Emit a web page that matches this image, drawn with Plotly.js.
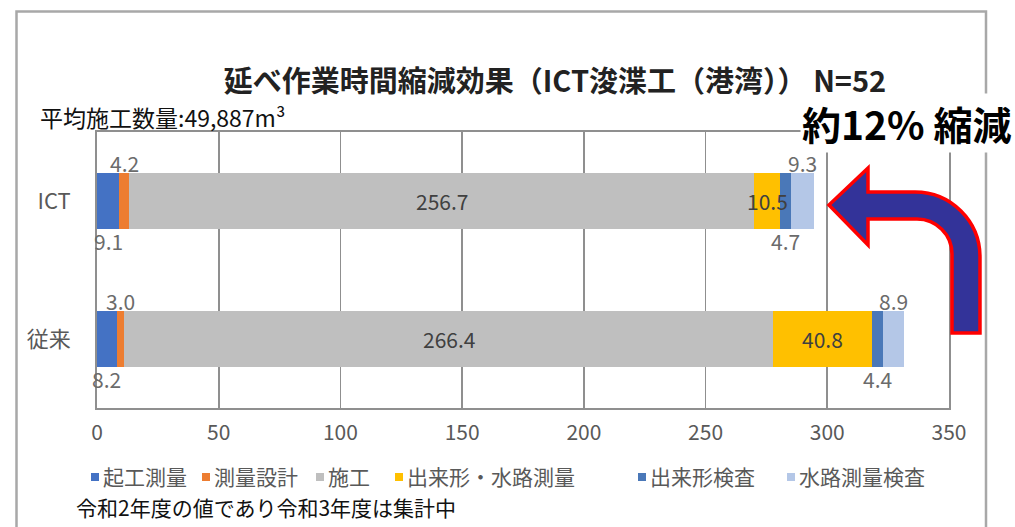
<!DOCTYPE html>
<html>
<head>
<meta charset="utf-8">
<script src="https://cdn.plot.ly/plotly-3.0.1.min.js"></script>
<style>
  html, body { margin: 0; padding: 0; background: #fff; }
  #chart { width: 1015px; height: 527px; }
</style>
</head>
<body>
<div id="chart"></div>
<script>
// Cumulative working hours per work item (ICT dredging vs. conventional)
const categories = ['ICT', '従来'];
const seriesNames = ['起工測量', '測量設計', '施工', '出来形・水路測量', '出来形検査', '水路測量検査'];
const kikoSokuryo = [9.1, 8.2];
const sokuryoSekkei = [4.2, 3.0];
const seko = [256.7, 266.4];
const dekigataSuiro = [10.5, 40.8];
const dekigataKensa = [4.7, 4.4];
const suiroKensa = [9.3, 8.9];
const xTickValues = [0, 50, 100, 150, 200, 250, 300, 350];

const seriesValues = [kikoSokuryo, sokuryoSekkei, seko, dekigataSuiro, dekigataKensa, suiroKensa];
const seriesColors = ['#4472C4', '#ED7D31', '#BFBFBF', '#FFC000', '#4A78B8', '#B4C7E7'];
// where each series' value label sits relative to its segment
const labelPlacement = ['below', 'above', 'inside', 'inside', 'below', 'above'];
// left edge (page px) of each legend key along the bottom row
const legendKeyLeft = [91, 202, 316, 395, 638, 787];

const FONT = '"Noto Sans CJK JP", "Noto Sans", sans-serif';
const W = 1015, H = 527;
const M = { l: 97, r: 66, t: 132, b: 119 };
const PW = W - M.l - M.r, PH = H - M.t - M.b;
// page pixel -> paper coordinates for decorations
const px = p => (p - M.l) / PW;
const py = p => (H - M.b - p) / PH;

const traces = seriesNames.map((name, i) => ({
  type: 'bar',
  orientation: 'h',
  name: name,
  y: categories,
  x: seriesValues[i],
  marker: { color: seriesColors[i], line: { width: 0 } },
  hoverinfo: 'x+name'
}));

// value labels placed at each segment's midpoint
const annotations = [];
categories.forEach((cat, c) => {
  let start = 0;
  seriesValues.forEach((vals, i) => {
    const v = vals[c];
    const mid = start + v / 2;
    const place = labelPlacement[i];
    annotations.push({
      x: mid, y: cat, xref: 'x', yref: 'y',
      text: v.toFixed(1),
      showarrow: false,
      yshift: place === 'above' ? 38 : (place === 'below' ? -40 : 0),
      font: { family: FONT, size: 21, color: place === 'inside' ? '#404040' : '#6b6b6b' }
    });
    start += v;
  });
});

const shapes = [];

// bottom key: small colour squares with series names
seriesNames.forEach((name, i) => {
  const left = legendKeyLeft[i];
  shapes.push({
    type: 'rect', xref: 'paper', yref: 'paper',
    x0: px(left), x1: px(left + 8), y0: py(481), y1: py(473),
    fillcolor: seriesColors[i], line: { width: 0 }
  });
  annotations.push({
    xref: 'paper', yref: 'paper', x: px(left + 11), y: py(476),
    xanchor: 'left', yanchor: 'middle', showarrow: false,
    text: name, borderpad: 0,
    font: { family: FONT, size: 21, color: '#595959' }
  });
});

annotations.push({
  xref: 'paper', yref: 'paper', x: px(38), y: py(117),
  xanchor: 'left', yanchor: 'middle', showarrow: false,
  text: '平均施工数量:49,887m³',
  font: { family: FONT, size: 23, color: '#111' }
});
annotations.push({
  xref: 'paper', yref: 'paper', x: px(800), y: py(123),
  xanchor: 'left', yanchor: 'middle', showarrow: false,
  text: '<b>約12% 縮減</b>', bgcolor: '#ffffff',
  font: { family: FONT, size: 39, color: '#000' }
});
annotations.push({
  xref: 'paper', yref: 'paper', x: px(75), y: py(507),
  xanchor: 'left', yanchor: 'middle', showarrow: false,
  text: '令和2年度の値であり令和3年度は集計中', borderpad: 0,
  font: { family: FONT, size: 21, color: '#111' }
});

// curved arrow pointing from the conventional total toward the ICT total
function arrowPath() {
  const k = 0.5523;
  const pts = [
    ['M', 829, 205],
    ['L', 868, 168],
    ['L', 868, 192],
    ['L', 915, 192],
    ['C', 915 + k * 65, 192, 980, 257 - k * 65, 980, 257],
    ['L', 980, 333],
    ['L', 952, 333],
    ['L', 952, 254],
    ['C', 952, 254 - k * 35, 917 + k * 35, 219, 917, 219],
    ['L', 868, 219],
    ['L', 868, 245]
  ];
  let s = '';
  pts.forEach(p => {
    s += p[0];
    const coords = [];
    for (let j = 1; j < p.length; j += 2) coords.push(px(p[j]).toFixed(5) + ',' + py(p[j + 1]).toFixed(5));
    s += coords.join(' ') + ' ';
  });
  return s + 'Z';
}

shapes.push({
  type: 'rect', xref: 'paper', yref: 'paper',
  x0: px(16.5), x1: px(986), y0: py(11.5), y1: py(560),
  line: { color: '#a8a8a8', width: 2.5 }, fillcolor: 'rgba(0,0,0,0)', layer: 'below'
});
shapes.push({
  type: 'path', xref: 'paper', yref: 'paper',
  path: arrowPath(),
  fillcolor: '#333399',
  line: { color: '#ff0000', width: 3.5 },
  layer: 'above'
});

const layout = {
  width: W, height: H,
  margin: M,
  paper_bgcolor: '#ffffff',
  plot_bgcolor: '#ffffff',
  barmode: 'stack',
  bargap: 0.6,
  showlegend: false,
  title: {
    text: '延べ作業時間縮減効果（ICT浚渫工（港湾）） N=52',
    font: { family: FONT, size: 29, color: '#222', weight: 'bold' },
    xref: 'paper', x: px(555), xanchor: 'center',
    yref: 'container', y: 1 - 82 / H, yanchor: 'middle'
  },
  xaxis: {
    range: [0, 350],
    tickvals: xTickValues,
    ticktext: xTickValues.map(String),
    showgrid: true, gridcolor: '#8f8f8f', gridwidth: 1.8,
    zeroline: false,
    showline: true, mirror: true, linecolor: '#8f8f8f', linewidth: 1.8,
    ticks: '', ticklabelstandoff: 5,
    tickfont: { family: FONT, size: 21, color: '#595959' },
    fixedrange: true
  },
  yaxis: {
    type: 'category',
    categoryorder: 'array', categoryarray: categories,
    autorange: 'reversed',
    showgrid: false, zeroline: false,
    showline: true, mirror: true, linecolor: '#8f8f8f', linewidth: 1.8,
    ticks: '', ticklabelstandoff: 20,
    tickfont: { family: FONT, size: 22, color: '#595959' },
    fixedrange: true
  },
  annotations: annotations,
  shapes: shapes
};

Plotly.newPlot('chart', traces, layout, { displayModeBar: false, staticPlot: true });
</script>
</body>
</html>
